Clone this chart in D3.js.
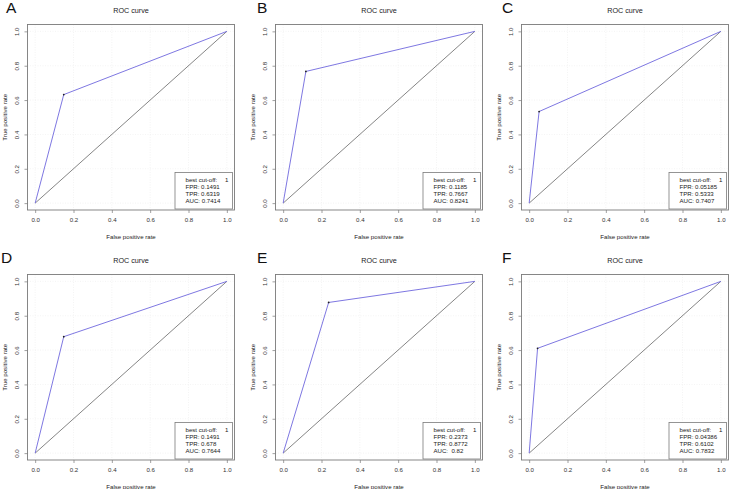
<!DOCTYPE html>
<html>
<head>
<meta charset="utf-8">
<script src="https://cdn.jsdelivr.net/npm/d3@7"></script>
<style>
  html, body { margin: 0; padding: 0; background: #fff; }
  svg { display: block; font-family: "Liberation Sans", Arial, sans-serif; }
</style>
</head>
<body>
<svg id="chart" width="729" height="489"></svg>
<script>
// ---- data ----
const panelLetters = ["A", "B", "C", "D", "E", "F"];
const cutoffFPR = [0.1491, 0.1185, 0.05185, 0.1491, 0.2373, 0.04386];
const cutoffTPR = [0.6319, 0.7667, 0.5333, 0.678, 0.8772, 0.6102];
const aucValues = ["0.7414", "0.8241", "0.7407", "0.7644", " 0.82", "0.7832"];
const bestCutoff = [1, 1, 1, 1, 1, 1];
const axisTicks = [0, 0.2, 0.4, 0.6, 0.8, 1.0];
const chartTitle = "ROC curve";
const xLabel = "False positive rate";
const yLabel = "True positive rate";

// ---- layout ----
const colLeft = [27.5, 275.5, 521.5];
const rowTop = [24.5, 274.5];
const letterX = [6, 257, 502, 1, 257, 502];
const boxW = 207, boxH = 185.5;
const fs = 6.1;
const svg = d3.select("#chart");

panelLetters.forEach((letter, i) => {
  const col = i % 3, row = Math.floor(i / 3);
  const left = colLeft[col], top = rowTop[row];
  // R-style 4% padding on each side
  const xs = d3.scaleLinear().domain([-0.04, 1.04]).range([left, left + boxW]);
  const ys = d3.scaleLinear().domain([-0.04, 1.04]).range([top + boxH, top]);
  const g = svg.append("g");

  // faint grid
  g.selectAll(".gx").data(axisTicks).enter().append("line")
    .attr("x1", d => xs(d)).attr("x2", d => xs(d))
    .attr("y1", top).attr("y2", top + boxH)
    .attr("stroke", "#ececec").attr("stroke-width", 0.6).attr("stroke-dasharray", "1,1.5");
  g.selectAll(".gy").data(axisTicks).enter().append("line")
    .attr("y1", d => ys(d)).attr("y2", d => ys(d))
    .attr("x1", left).attr("x2", left + boxW)
    .attr("stroke", "#ececec").attr("stroke-width", 0.6).attr("stroke-dasharray", "1,1.5");

  // axes
  const fmt = d3.format(".1f");
  const xAxis = d3.axisBottom(xs).tickValues(axisTicks).tickFormat(fmt).tickSize(3).tickPadding(5);
  const yAxis = d3.axisLeft(ys).tickValues(axisTicks).tickFormat(fmt).tickSize(3).tickPadding(3);
  const gx = g.append("g").attr("transform", `translate(0,${top + boxH})`).call(xAxis);
  const gy = g.append("g").attr("transform", `translate(${left},0)`).call(yAxis);
  [gx, gy].forEach(a => {
    a.select(".domain").remove();
    a.selectAll(".tick line").attr("stroke", "#777").attr("stroke-width", 0.7);
    a.selectAll(".tick text").attr("fill", "#333").attr("font-size", fs)
      .attr("font-family", "Liberation Sans, Arial, sans-serif");
  });
  gy.selectAll(".tick text")
    .attr("text-anchor", "middle")
    .attr("dy", null)
    .attr("transform", "translate(-8.5,0) rotate(-90)")
    .attr("x", 0).attr("y", 0);
  gx.selectAll(".tick text").attr("dy", "0.71em");

  // box
  g.append("rect").attr("x", left).attr("y", top).attr("width", boxW).attr("height", boxH)
    .attr("fill", "none").attr("stroke", "#7a7a7a").attr("stroke-width", 0.9);

  // diagonal
  g.append("line")
    .attr("x1", xs(0)).attr("y1", ys(0)).attr("x2", xs(1)).attr("y2", ys(1))
    .attr("stroke", "#333").attr("stroke-width", 0.6);

  // ROC curve
  const pts = [[0, 0], [cutoffFPR[i], cutoffTPR[i]], [1, 1]];
  g.append("path")
    .attr("d", d3.line().x(d => xs(d[0])).y(d => ys(d[1]))(pts))
    .attr("fill", "none").attr("stroke", "#6f68de").attr("stroke-width", 0.9);
  g.append("circle").attr("cx", xs(cutoffFPR[i])).attr("cy", ys(cutoffTPR[i])).attr("r", 0.9)
    .attr("fill", "#222");

  // titles
  g.append("text").attr("x", left + boxW / 2).attr("y", top - 11.5)
    .attr("text-anchor", "middle").attr("font-size", 7.2).attr("fill", "#222").text(chartTitle);
  g.append("text").attr("x", left + boxW / 2).attr("y", top + boxH + 28.5)
    .attr("text-anchor", "middle").attr("font-size", fs).attr("fill", "#222").text(xLabel);
  g.append("text").attr("transform", `translate(${left - 21},${top + boxH / 2}) rotate(-90)`)
    .attr("text-anchor", "middle").attr("font-size", fs).attr("fill", "#222").text(yLabel);

  // panel letter
  g.append("text").attr("x", letterX[i]).attr("y", top - 11.5)
    .attr("font-size", 15.5).attr("fill", "#111").text(letter);

  // legend
  const lw = 57.5, lh = 36.5;
  const lx = left + boxW - 2 - lw, ly = top + boxH - 1 - lh;
  g.append("rect").attr("x", lx).attr("y", ly).attr("width", lw).attr("height", lh)
    .attr("fill", "#fff").attr("stroke", "#7a7a7a").attr("stroke-width", 0.8);
  const lines = ["best cut-off:", "FPR: " + cutoffFPR[i], "TPR: " + cutoffTPR[i], "AUC: " + aucValues[i]];
  lines.forEach((t, k) => {
    g.append("text").attr("x", lx + 10.5).attr("y", ly + 9.9 + k * 7)
      .attr("font-size", fs).attr("fill", "#222").style("white-space", "pre").text(t);
  });
  g.append("text").attr("x", lx + lw - 4).attr("y", ly + 9.9)
    .attr("text-anchor", "end").attr("font-size", fs).attr("fill", "#222").text(bestCutoff[i]);
});
</script>
</body>
</html>
